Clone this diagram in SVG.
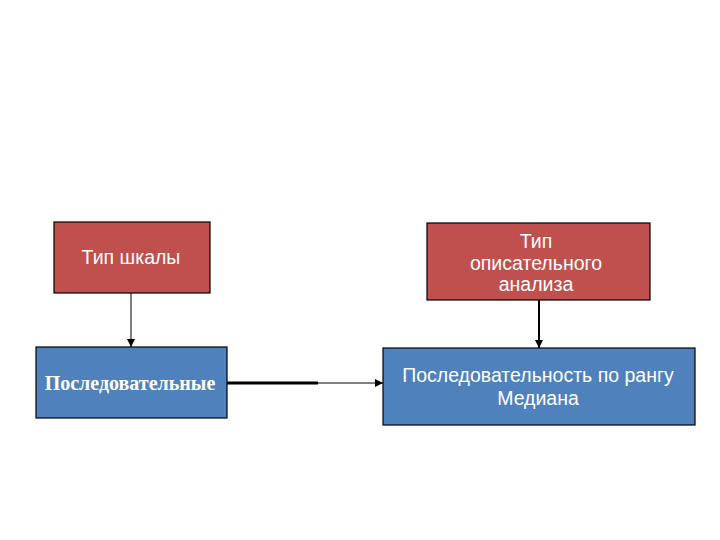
<svg xmlns="http://www.w3.org/2000/svg" width="720" height="540" viewBox="0 0 720 540">
<defs>
<style>
.red{fill:#C0504D;stroke:#000;stroke-width:1.2}
.blue{fill:#4F81BD;stroke:#000;stroke-width:1.2}
.t{font-family:"Liberation Sans",Arial,sans-serif;font-size:19.5px;fill:#fff;text-anchor:middle}
.ts{font-family:"Liberation Serif","Times New Roman",serif;font-size:20px;font-weight:bold;fill:#fff;text-anchor:middle}
.c{stroke:#000;fill:none}
</style>
<marker id="ah" viewBox="0 0 10 10" refX="10" refY="5" markerWidth="8" markerHeight="8" markerUnits="userSpaceOnUse" orient="auto">
<path d="M0,0 L10,5 L0,10 z" fill="#000"/>
</marker>
</defs>
<rect width="720" height="540" fill="#fff"/>
<g id="connectors">
<line class="c" x1="131" y1="293" x2="131" y2="347" stroke-width="1" marker-end="url(#ah)"/>
<line class="c" x1="539" y1="300" x2="539" y2="348" stroke-width="2" marker-end="url(#ah)"/>
<line class="c" x1="227" y1="383" x2="318" y2="383" stroke-width="3"/>
<line class="c" x1="317" y1="383" x2="383" y2="383" stroke-width="1.2" marker-end="url(#ah)"/>
</g>
<g id="node-scale-type">
<rect class="red" x="54" y="222" width="156" height="71"/>
<text class="t" x="131" y="264">Тип шкалы</text>
</g>
<g id="node-analysis-type">
<rect class="red" x="427" y="223" width="223" height="77"/>
<text class="t" x="536" y="248">Тип</text>
<text class="t" x="536" y="270">описательного</text>
<text class="t" x="536" y="291">анализа</text>
</g>
<g id="node-ordinal">
<rect class="blue" x="36" y="347" width="191" height="71"/>
<text class="ts" x="130" y="390">Последовательные</text>
</g>
<g id="node-median">
<rect class="blue" x="383" y="348" width="312" height="77"/>
<text class="t" x="538" y="382">Последовательность по рангу</text>
<text class="t" x="538" y="405">Медиана</text>
</g>
</svg>
